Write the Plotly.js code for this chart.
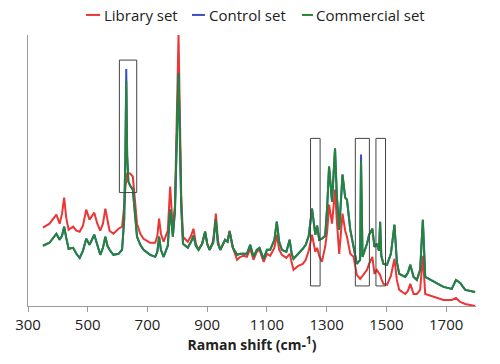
<!DOCTYPE html>
<html>
<head>
<meta charset="utf-8">
<script src="https://cdn.plot.ly/plotly-3.0.1.min.js"></script>
<style>html,body{margin:0;padding:0;background:#fff;}#chart{width:500px;height:364px;}</style>
</head>
<body>
<div id="chart"></div>
<script>
// Raman shift (cm-1)
const wavenumber = [350,372,395,406,414,421,428,436,451,462,473,484,495,506,522,532,542,551,559,566,573,586,603,615,622,626,629,632,636,642,651,659,665,676,687,709,726,733,739,745,754,768,772,776,780,785,792,798,804,808,813,819,835,846,854,862,871,883,893,900,908,920,929,936,944,960,968,975,986,1000,1011,1022,1033,1044,1055,1066,1075,1089,1100,1111,1125,1133,1141,1150,1165,1176,1183,1189,1205,1220,1230,1240,1251,1258,1262,1268,1275,1284,1295,1302,1308,1318,1322,1328,1334,1342,1353,1362,1368,1379,1390,1401,1412,1415,1420,1435,1442,1453,1460,1468,1475,1479,1483,1490,1502,1515,1527,1535,1543,1563,1572,1580,1591,1602,1613,1622,1630,1663,1691,1719,1733,1747,1764,1797];

// Library set intensities (arbitrary units)
const librarySet = [78,82,91,82,92,108,88,76,79,75,74,80,96,86,93,82,75,82,97,84,75,72,77,79,99,118,130,132,132,132,129,102,82,72,67,63,63,70,87,72,64,75,95,119,100,76,100,200,270,200,110,69,64,70,77,62,56,62,74,62,56,65,92,65,56,66,64,75,58,46,49,50,49,57,46,54,56,44,52,50,58,71,56,51,48,52,42,36,40,42,46,55,71,58,54,58,50,44,59,75,101,82,95,116,85,52,92,75,69,52,49,31,27,28,30,36,42,49,32,36,33,31,27,22,21,30,47,26,16,12,15,22,12,12,16,50,12,9,6,6,8,4,2,0];

// Control set intensities
const controlSet = [60,63,72,66,70,79,68,57,58,52,48,55,67,61,71,60,51,58,69,60,56,51,52,56,86,150,236,150,124,120,116,89,69,61,56,51,49,54,69,56,49,60,75,96,85,69,95,170,232,175,100,62,58,64,70,60,56,62,74,62,56,63,86,62,56,66,64,74,58,51,52,52,52,61,49,56,58,47,56,56,66,84,64,56,54,66,52,47,52,57,61,70,97,78,71,80,66,67,70,100,139,104,125,157,110,76,131,108,106,76,59,42,46,151,49,62,71,77,59,62,55,84,50,42,41,52,81,44,32,29,33,41,29,26,36,86,29,24,19,17,26,23,16,14];

// Commercial set intensities
const commercialSet = [60,63,72,66,70,79,68,57,58,52,48,55,67,61,71,60,51,58,69,60,56,51,52,56,86,150,224,150,124,120,116,89,69,61,56,51,49,54,69,56,49,60,75,96,85,69,95,170,232,175,100,62,58,64,70,60,56,62,74,62,56,63,86,62,56,66,64,74,58,51,52,52,52,61,49,56,58,47,56,56,66,84,64,56,54,66,52,47,52,57,61,70,97,78,71,80,66,67,70,100,139,104,125,157,110,76,131,108,106,76,59,42,46,144,49,62,71,77,59,62,55,84,50,42,41,52,81,44,32,29,33,41,29,26,36,86,29,24,19,17,26,23,16,14];

const seriesNames = ['Library set','Control set','Commercial set'];
const tickValues = [300,500,700,900,1100,1300,1500,1700];

// highlighted regions in data units
const boxStart = [606,1246,1396,1465];
const boxEnd   = [664,1278,1443,1497];
const boxLow   = [113,20,20,20];
const boxHigh  = [245,167,167,167];

const colors = ['#ec3535','#3a4fc0','#24843a'];
const series = [librarySet, controlSet, commercialSet];

const traces = series.map((vals, i) => ({
  x: wavenumber, y: vals, type: 'scatter', mode: 'lines', name: seriesNames[i],
  line: {color: colors[i], width: 2}, showlegend: false
}));

const shapes = boxStart.map((x0, i) => ({
  type: 'rect', xref: 'x', yref: 'y', x0: x0, x1: boxEnd[i], y0: boxLow[i], y1: boxHigh[i],
  line: {color: '#444', width: 1}, fillcolor: 'rgba(0,0,0,0)'
}));

// custom legend (paper coordinates)
const legX0 = [0.1295, 0.366, 0.6116];
const legX1 = [0.1607, 0.395, 0.6362];
const legTextX = [0.1674, 0.4018, 0.6406];
const legY = 1.074;
const annotations = [];
seriesNames.forEach((name, i) => {
  shapes.push({type: 'line', xref: 'paper', yref: 'paper', x0: legX0[i], x1: legX1[i], y0: legY, y1: legY,
               line: {color: colors[i], width: 2}});
  annotations.push({xref: 'paper', yref: 'paper', x: legTextX[i], y: legY, xanchor: 'left', yanchor: 'middle',
                    text: name, showarrow: false, font: {size: 15, color: '#222'}, borderpad: 0});
});

const layout = {
  width: 500, height: 364,
  margin: {l: 28, r: 24, t: 35, b: 58},
  paper_bgcolor: '#fff', plot_bgcolor: '#fff',
  font: {family: '"Open Sans", "Noto Sans", sans-serif', color: '#222'},
  showlegend: false,
  xaxis: {range: [300, 1800], tickvals: tickValues, ticktext: tickValues.map(String),
          showline: true, linecolor: '#9a9a9a', linewidth: 1.2, ticks: 'outside', ticklen: 5,
          tickcolor: '#9a9a9a', showgrid: false, zeroline: false,
          tickfont: {size: 15, color: '#222'},
          title: {text: '<b>Raman shift (cm-<sup>1</sup>)</b>', font: {size: 14, color: '#222'}, standoff: 6}},
  yaxis: {range: [0, 270], showline: true, linecolor: '#9a9a9a', linewidth: 1.2,
          showticklabels: false, ticks: '', showgrid: false, zeroline: false},
  shapes: shapes,
  annotations: annotations
};

Plotly.newPlot('chart', traces, layout, {displayModeBar: false, staticPlot: true});
</script>
</body>
</html>
